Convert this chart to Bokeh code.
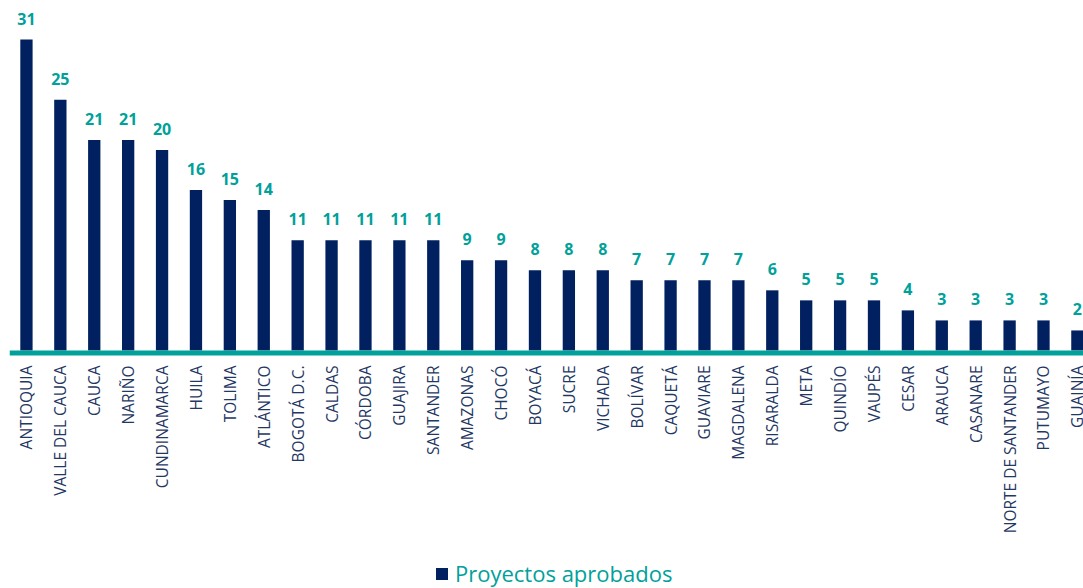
import math
from bokeh.plotting import figure
from bokeh.models import Range1d, Legend, LegendItem, ColumnDataSource, Span
from bokeh.core.properties import value
from bokeh.embed import file_html
from bokeh.resources import INLINE

categories = ["ANTIOQUIA", "VALLE DEL CAUCA", "CAUCA", "NARIÑO", "CUNDINAMARCA", "HUILA",
              "TOLIMA", "ATLÁNTICO", "BOGOTÁ D.C.", "CALDAS", "CÓRDOBA", "GUAJIRA",
              "SANTANDER", "AMAZONAS", "CHOCÓ", "BOYACÁ", "SUCRE", "VICHADA", "BOLÍVAR",
              "CAQUETÁ", "GUAVIARE", "MAGDALENA", "RISARALDA", "META", "QUINDÍO", "VAUPÉS",
              "CESAR", "ARAUCA", "CASANARE", "NORTE DE SANTANDER", "PUTUMAYO", "GUAINÍA"]
proyectos = [31, 25, 21, 21, 20, 16, 15, 14, 11, 11, 11, 11, 11, 9, 9, 8, 8, 8, 7, 7, 7, 7,
             6, 5, 5, 5, 4, 3, 3, 3, 3, 2]
series_name = "Proyectos aprobados"

NAVY = "#002060"
TEAL = "#00a19a"
LABEL = "#1f3864"
FONT = "Open Sans"

pos = list(range(len(categories)))
src = ColumnDataSource(dict(x=pos, top=proyectos, lbl=[str(v) for v in proyectos],
                            cat=categories, zero=[0] * len(pos)))

p = figure(width=1083, height=588, output_backend="svg", toolbar_location=None,
           x_range=Range1d(-0.5, 31.18), y_range=Range1d(-23.73, 34.1),
           min_border_left=9, min_border_right=0, min_border_top=8, min_border_bottom=0,
           x_axis_location=None, y_axis_location=None)
p.outline_line_color = None
p.xgrid.visible = False
p.ygrid.visible = False
p.background_fill_color = "white"
p.border_fill_color = "white"

r = p.vbar(x="x", top="top", bottom=0, width=0.363, source=src, fill_color=NAVY, line_color=None)
p.text(x="x", y="top", text="lbl", source=src, text_align="center", text_baseline="alphabetic",
       y_offset=-21, text_color=TEAL, text_font=value(FONT), text_font_style="bold",
       text_font_size="16px")

# category axis: baseline and rotated category labels
p.add_layout(Span(location=-0.25, dimension="width", line_color=TEAL, line_width=5))
p.text(x="x", y="zero", text="cat", source=src, angle=math.pi / 2, text_align="right",
       text_baseline="middle", y_offset=15, text_color=LABEL, text_font=value(FONT),
       text_font_size="15.5px")

legend = Legend(items=[LegendItem(label=series_name, renderers=[r])], location=(425, 0),
                orientation="horizontal", glyph_width=15, glyph_height=15, label_standoff=6,
                label_text_font=FONT, label_text_font_size="22px", label_text_color=TEAL,
                label_height=15, border_line_color=None, background_fill_alpha=0, padding=0,
                margin=0)
p.add_layout(legend, "center")

open("out.html", "w").write(file_html(p, INLINE))
